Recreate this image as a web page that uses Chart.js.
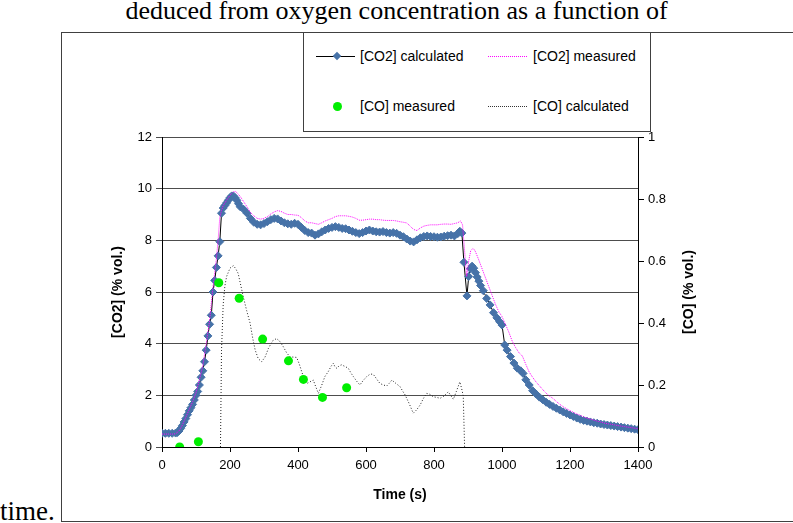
<!DOCTYPE html>
<html>
<head>
<meta charset="utf-8">
<script src="https://cdn.jsdelivr.net/npm/chart.js@4.4.1/dist/chart.umd.min.js"></script>
<style>
  html, body { margin: 0; padding: 0; background: #fff; }
  body { width: 793px; height: 523px; position: relative; overflow: hidden; }
  .serif { position: absolute; font-family: "Liberation Serif", "Times New Roman", serif; font-size: 26px; color: #000; white-space: nowrap; }
  #frame { position: absolute; left: 61px; top: 32px; width: 800px; height: 488px; border: 1px solid #404040; }
  #chartWrap { position: absolute; left: 0; top: 0; width: 793px; height: 523px; }
  #legend { position: absolute; left: 303px; top: 32px; width: 346px; height: 98px; border: 1px solid #404040; background: #fff;
            font-family: "Liberation Sans", Arial, sans-serif; font-size: 14px; color: #000; }
  #legend .lbl { position: absolute; white-space: nowrap; line-height: 16px; }
  #legend .solid { position: absolute; height: 0; border-top: 1px solid #000; width: 39px; }
  #legend .dots { position: absolute; height: 0; width: 39px; }
  #legend .diamond { position: absolute; width: 6px; height: 6px; background: #4672a8; transform: rotate(45deg); }
  #legend .dot { position: absolute; width: 9px; height: 9px; border-radius: 50%; background: #00ee00; }
  #yRightTitle { position: absolute; left: 688px; top: 292px; transform: translate(-50%, -50%) rotate(-90deg);
                 font-family: "Liberation Sans", Arial, sans-serif; font-weight: bold; font-size: 14px; white-space: nowrap; }
</style>
</head>
<body>
<div class="serif" style="left:0; width:793px; text-align:center; top:-4px;">deduced from oxygen concentration as a function of</div>
<div id="frame"></div>
<div class="serif" style="left:0; top:496px; font-size:27px;">time.</div>
<div id="chartWrap"><canvas id="chart" width="793" height="523"></canvas></div>
<div id="legend">
  <div class="solid" style="left:12px; top:23px;"></div>
  <div class="diamond" style="left:30px; top:20px;"></div>
  <div class="lbl" style="left:56px; top:15px;">[CO2] calculated</div>
  <div class="dots" style="left:184px; top:23px; border-top:1px dotted #ff00ff;"></div>
  <div class="lbl" style="left:229px; top:15px;">[CO2] measured</div>
  <div class="dot" style="left:29px; top:69px;"></div>
  <div class="lbl" style="left:56px; top:65px;">[CO] measured</div>
  <div class="dots" style="left:184px; top:73px; border-top:1px dotted #333;"></div>
  <div class="lbl" style="left:229px; top:65px;">[CO] calculated</div>
</div>
<div id="yRightTitle">[CO] (% vol.)</div>

<script>
// tick labels
const timeTicks = [0, 200, 400, 600, 800, 1000, 1200, 1400];
const co2Ticks = [0, 2, 4, 6, 8, 10, 12];
const coTicks = [0, 0.2, 0.4, 0.6, 0.8, 1];
const coTickLabels = ['0', '0.2', '0.4', '0.6', '0.8', '1'];

// [CO2] calculated : [time (s), % vol.]
const co2Calculated = [
  [0,0.53],[10,0.53],[20,0.53],[30,0.53],[40,0.54],[45,0.56],[50,0.62],[55,0.72],[60,0.83],[65,0.97],
  [70,1.1],[75,1.25],[80,1.4],[85,1.52],[90,1.65],[95,1.82],[100,2.0],[105,2.15],[110,2.4],[115,2.7],
  [120,2.95],[125,3.3],[130,3.75],[135,4.3],[140,4.75],[145,5.1],[150,6.0],[155,6.45],[160,6.95],[165,7.4],
  [170,7.95],[175,9.05],[180,9.25],[185,9.35],[190,9.45],[195,9.55],[200,9.65],[205,9.72],[210,9.72],[215,9.65],
  [220,9.55],[225,9.42],[230,9.3],[240,9.2],[250,9.05],[260,8.85],[270,8.7],[280,8.62],[290,8.6],[300,8.65],
  [310,8.72],[320,8.8],[330,8.85],[340,8.83],[350,8.75],[360,8.68],[370,8.64],[380,8.62],[390,8.66],[400,8.62],
  [410,8.5],[420,8.38],[430,8.3],[440,8.28],[450,8.2],[460,8.25],[470,8.33],[480,8.4],[490,8.46],[500,8.5],
  [510,8.53],[520,8.5],[530,8.46],[540,8.45],[550,8.4],[560,8.35],[570,8.3],[580,8.26],[590,8.3],[600,8.36],
  [610,8.4],[620,8.36],[630,8.33],[640,8.32],[650,8.34],[660,8.3],[670,8.28],[680,8.3],[690,8.27],[700,8.2],
  [710,8.14],[720,8.05],[730,7.97],[740,7.94],[750,8.02],[760,8.1],[770,8.15],[780,8.17],[790,8.15],[800,8.14],
  [810,8.12],[820,8.13],[830,8.16],[840,8.18],[850,8.2],[860,8.17],[870,8.26],[876,8.35],[882,8.28],[888,7.15],
  [897,5.85],[902,6.6],[907,6.9],[912,7.0],[917,6.92],[922,6.75],[927,6.58],[932,6.42],[937,6.25],[945,6.05],
  [955,5.75],[965,5.5],[975,5.2],[985,5.0],[993,4.85],[1000,4.72],[1008,3.95],[1015,3.75],[1025,3.5],[1035,3.25],
  [1045,3.05],[1055,2.95],[1062,2.85],[1070,2.6],[1080,2.4],[1090,2.18],[1100,2.05],[1110,1.93],[1120,1.83],[1130,1.73],
  [1140,1.65],[1150,1.57],[1160,1.5],[1170,1.43],[1180,1.36],[1190,1.3],[1200,1.24],[1210,1.18],[1220,1.12],[1230,1.07],
  [1240,1.03],[1250,1.0],[1260,0.97],[1270,0.94],[1280,0.92],[1290,0.89],[1300,0.87],[1310,0.85],[1320,0.83],[1330,0.81],
  [1340,0.79],[1350,0.77],[1360,0.75],[1370,0.73],[1380,0.71],[1390,0.69],[1400,0.67]
];

// [CO2] measured
const co2Measured = [
  [0,0.5],[10,0.5],[20,0.5],[30,0.5],[40,0.51],[50,0.62],[60,0.85],[70,1.15],[80,1.45],[90,1.75],
  [100,2.1],[110,2.6],[120,3.15],[130,4.0],[140,4.9],[150,6.2],[160,7.3],[165,8.0],[170,8.9],[175,9.15],
  [180,9.35],[190,9.55],[200,9.75],[210,9.87],[215,9.9],[220,9.85],[230,9.7],[240,9.5],[250,9.3],[260,9.08],
  [270,8.95],[280,8.85],[290,8.82],[300,8.85],[310,8.92],[320,9.02],[330,9.1],[340,9.15],[350,9.12],[360,9.05],
  [370,9.0],[380,9.0],[390,8.98],[400,8.97],[410,8.88],[420,8.75],[430,8.68],[440,8.68],[450,8.65],[460,8.62],
  [470,8.68],[480,8.75],[490,8.8],[500,8.85],[510,8.92],[520,8.95],[530,8.95],[540,8.95],[550,8.93],[560,8.9],
  [570,8.85],[580,8.78],[590,8.78],[600,8.8],[610,8.82],[620,8.82],[630,8.8],[640,8.8],[650,8.78],[660,8.77],
  [670,8.77],[680,8.77],[690,8.75],[700,8.72],[710,8.7],[720,8.67],[730,8.55],[740,8.42],[750,8.38],[760,8.48],
  [770,8.55],[780,8.58],[790,8.6],[800,8.6],[810,8.6],[820,8.62],[830,8.63],[840,8.63],[850,8.62],[860,8.65],
  [870,8.68],[878,8.75],[884,8.6],[890,7.6],[896,6.6],[902,7.2],[908,7.6],[914,7.68],[920,7.62],[930,7.3],
  [940,6.95],[950,6.6],[960,6.25],[970,5.9],[980,5.55],[990,5.25],[1000,5.05],[1010,4.75],[1020,4.45],[1030,4.1],
  [1040,3.85],[1050,3.65],[1060,3.52],[1070,3.2],[1080,2.9],[1090,2.7],[1100,2.52],[1110,2.37],[1120,2.22],[1130,2.08],
  [1140,1.97],[1150,1.88],[1160,1.76],[1170,1.65],[1180,1.56],[1190,1.48],[1200,1.41],[1210,1.34],[1220,1.28],[1230,1.23],
  [1240,1.17],[1250,1.12],[1260,1.08],[1270,1.04],[1280,1.0],[1290,0.97],[1300,0.93],[1310,0.9],[1320,0.88],[1330,0.86],
  [1340,0.83],[1350,0.81],[1360,0.79],[1370,0.77],[1380,0.75],[1390,0.73],[1400,0.71]
];

// [CO] measured (right axis)
const coMeasured = [
  [52,0.0],[107,0.017],[167,0.53],[227,0.48],[296,0.348],[372,0.278],[416,0.218],[472,0.16],[543,0.191]
];

// [CO] calculated (right axis)
const coCalculated = [
  [172,0],[175,0.31],[180,0.46],[185,0.52],[190,0.55],[200,0.577],[210,0.585],[217,0.575],[224,0.56],[232,0.52],
  [239,0.485],[249,0.44],[259,0.4],[267,0.35],[274,0.313],[283,0.285],[293,0.275],[303,0.29],[313,0.318],[325,0.342],
  [337,0.35],[347,0.34],[357,0.323],[366,0.305],[376,0.291],[386,0.29],[396,0.289],[403,0.27],[411,0.243],[418,0.22],
  [426,0.205],[435,0.21],[445,0.216],[452,0.195],[460,0.173],[470,0.2],[479,0.227],[490,0.245],[497,0.26],[504,0.27],
  [509,0.258],[514,0.254],[521,0.262],[528,0.265],[538,0.26],[548,0.254],[555,0.24],[563,0.227],[572,0.213],[582,0.2],
  [592,0.215],[602,0.227],[612,0.235],[621,0.235],[631,0.22],[641,0.205],[651,0.2],[661,0.197],[668,0.205],[676,0.216],
  [688,0.205],[700,0.195],[708,0.18],[715,0.168],[727,0.14],[739,0.109],[749,0.12],[759,0.135],[768,0.155],[778,0.173],
  [788,0.17],[798,0.162],[808,0.16],[818,0.157],[830,0.165],[842,0.178],[850,0.165],[857,0.154],[866,0.18],[876,0.21],
  [881,0.19],[886,0.165],[890,0]
];

const toXY = arr => arr.map(p => ({ x: p[0], y: p[1] }));

Chart.defaults.font.family = '"Liberation Sans", Arial, sans-serif';
Chart.defaults.font.size = 13;
Chart.defaults.color = '#000';

const ctx = document.getElementById('chart');
new Chart(ctx, {
  type: 'line',
  data: {
    datasets: [
      {
        label: '[CO2] calculated',
        data: toXY(co2Calculated),
        yAxisID: 'y',
        borderColor: '#000',
        borderWidth: 1,
        pointStyle: 'rectRot',
        pointRadius: 4,
        pointBorderWidth: 1,
        pointBackgroundColor: '#4672a8',
        pointBorderColor: '#4672a8',
        tension: 0,
        order: 4
      },
      {
        label: '[CO2] measured',
        data: toXY(co2Measured),
        yAxisID: 'y',
        borderColor: '#ff00ff',
        borderWidth: 1,
        borderDash: [1, 1],
        pointRadius: 0,
        tension: 0,
        order: 3
      },
      {
        label: '[CO] calculated',
        data: toXY(coCalculated),
        yAxisID: 'y1',
        borderColor: '#222',
        borderWidth: 1,
        borderDash: [1, 2],
        pointRadius: 0,
        tension: 0,
        order: 2
      },
      {
        label: '[CO] measured',
        data: toXY(coMeasured),
        yAxisID: 'y1',
        showLine: false,
        pointStyle: 'circle',
        pointRadius: 4.5,
        pointBorderWidth: 0,
        pointBackgroundColor: '#00ee00',
        order: 1
      }
    ]
  },
  options: {
    responsive: false,
    animation: false,
    layout: { padding: { left: 104, right: 98, top: 137, bottom: 19 } },
    plugins: { legend: { display: false }, tooltip: { enabled: false } },
    scales: {
      x: {
        type: 'linear',
        min: 0, max: 1400,
        afterBuildTicks: s => { s.ticks = timeTicks.map(v => ({ value: v })); },
        afterFit: s => { s.height = 57; },
        grid: { drawOnChartArea: false, color: '#000', tickLength: 5 },
        border: { color: '#000' },
        ticks: { padding: 6, maxRotation: 0, callback: v => String(v) },
        title: { display: true, text: 'Time (s)', font: { weight: 'bold', size: 14 }, padding: 0 }
      },
      y: {
        position: 'left',
        min: 0, max: 12,
        afterBuildTicks: s => { s.ticks = co2Ticks.map(v => ({ value: v })); },
        afterFit: s => { s.width = 58; },
        grid: { color: '#4d4d4d', tickLength: 6 },
        border: { color: '#000' },
        ticks: { padding: 4, callback: v => String(v) },
        title: { display: true, text: '[CO2] (% vol.)', font: { weight: 'bold', size: 14 }, padding: { top: 6, bottom: 0 } }
      },
      y1: {
        position: 'right',
        min: 0, max: 1,
        afterBuildTicks: s => { s.ticks = coTicks.map(v => ({ value: v })); },
        afterFit: s => { s.width = 57; },
        grid: { drawOnChartArea: false, color: '#000', tickLength: 6 },
        border: { color: '#000' },
        ticks: { padding: 4, callback: (v, i) => coTickLabels[i] }
      }
    }
  }
});
</script>
</body>
</html>
